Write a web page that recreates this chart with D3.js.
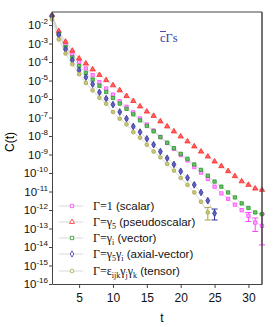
<!DOCTYPE html>
<html>
<head>
<meta charset="utf-8">
<script src="https://cdn.jsdelivr.net/npm/d3@7"></script>
<style>
  body { margin: 0; background: #fff; }
  svg { display: block; }
  .tick text { font-family: Arial, "Liberation Sans", sans-serif; }
</style>
</head>
<body>
<script>
// correlator values, t = 1..32
var tvals = d3.range(1, 33);

var scalar = [3.2e-2, 3.7e-3, 8.2e-4, 2.57e-4, 1.02e-4, 4.5e-5, 1.95e-5, 8.1e-6, 3.7e-6, 1.74e-6,
  7.6e-7, 3.8e-7, 1.9e-7, 8.9e-8, 4.2e-8, 2.0e-8, 8.9e-9, 4.2e-9, 2.0e-9, 9.3e-10,
  4.8e-10, 2.1e-10, 1.05e-10, 4.8e-11, 1.82e-11, 7.9e-12, 4.0e-12, 1.95e-12, 9.8e-13, 4.9e-13,
  2.1e-13, 1.4e-13];
var pseudoscalar = [3.5e-2, 4.7e-3, 1.26e-3, 4.1e-4, 1.55e-4, 8.3e-5, 4.0e-5, 2.0e-5, 1.05e-5, 5.5e-6,
  2.95e-6, 1.45e-6, 7.8e-7, 4.0e-7, 2.1e-7, 1.23e-7, 6.2e-8, 3.3e-8, 1.78e-8, 9.5e-9,
  5.1e-9, 2.75e-9, 1.45e-9, 7.8e-10, 4.2e-10, 2.35e-10, 1.26e-10, 6.8e-11, 3.55e-11, 2.3e-11,
  1.45e-11, 1.23e-11];
var vector = [2.9e-2, 3.3e-3, 6.5e-4, 1.78e-4, 6.0e-5, 2.6e-5, 1.13e-5, 5.2e-6, 2.4e-6, 1.14e-6,
  5.7e-7, 2.95e-7, 1.48e-7, 7.0e-8, 3.5e-8, 1.78e-8, 8.7e-9, 4.35e-9, 2.2e-9, 1.09e-9,
  5.9e-10, 2.9e-10, 1.48e-10, 7.2e-11, 3.45e-11, 1.83e-11, 8.9e-12, 4.8e-12, 2.28e-12, 1.29e-12,
  7.4e-13, 6.0e-13];
var axial = [3.1e-2, 2.9e-3, 4.8e-4, 1.26e-4, 3.6e-5, 1.51e-5, 6.3e-6, 2.3e-6, 1.05e-6, 5.0e-7,
  2.0e-7, 8.7e-8, 3.3e-8, 1.63e-8, 7.1e-9, 3.4e-9, 1.45e-9, 6.3e-10, 2.9e-10, 1.24e-10,
  5.5e-11, 2.3e-11, 8.9e-12, 3.2e-12, 6.6e-13];
var tensor = [2.04e-2, 1.67e-3, 2.9e-4, 7.6e-5, 2.2e-5, 7.4e-6, 2.95e-6, 1.17e-6, 5.6e-7, 2.0e-7,
  8.7e-8, 4.3e-8, 1.63e-8, 8.1e-9, 3.4e-9, 1.46e-9, 7.1e-10, 3.1e-10, 1.36e-10, 5.5e-11,
  2.3e-11, 8.9e-12, 2.8e-12, 7.4e-13];

// error bars [t, low, high] for the noisy tail points
var scalarErr = [[30, 2.4e-13, 7.4e-13], [31, 6.9e-14, 3.7e-13], [32, 1.3e-14, 6.0e-13]];
var axialErr = [[25, 2.9e-13, 1.13e-12]];
var tensorErr = [[24, 2.9e-13, 1.38e-12]];

var xTicks = [5, 10, 15, 20, 25, 30];
var yExps = d3.range(-16, -1);

var w = 273, h = 327;
var padL = 52, padR = 262, padT = 12, padB = 284;

var series = [
  {name: "scalar", data: scalar, err: scalarErr, color: "#ff44ff", fill: "#ffaaff", shape: d3.symbolSquare, size: 11},
  {name: "pseudoscalar", data: pseudoscalar, err: [], color: "#ff2a2a", fill: "#ff6060", shape: d3.symbolTriangle, size: 12},
  {name: "vector", data: vector, err: [], color: "#229922", fill: "#70c070", shape: d3.symbolSquare, size: 11},
  {name: "axial", data: axial, err: axialErr, color: "#30309a", fill: "#6060c0", shape: d3.symbolDiamond, size: 13},
  {name: "tensor", data: tensor, err: tensorErr, color: "#a5a545", fill: "#c8c880", shape: d3.symbolCircle, size: 11}
];

var svg = d3.select("body").append("svg")
  .attr("width", w)
  .attr("height", h);

var xScale = d3.scaleLinear().domain([1, 32]).range([padL, padR]);
var yScale = d3.scaleLog().domain([1e-16, 0.0507]).range([padB, padT]);

// connecting lines first
var line = d3.line()
  .x(function(d, i) { return xScale(tvals[i]); })
  .y(function(d) { return yScale(d); });

series.forEach(function(s) {
  svg.append("path")
    .attr("d", line(s.data))
    .attr("fill", "none")
    .attr("stroke", "#cfcfcf")
    .attr("stroke-width", 0.8);
});

// error bars
series.forEach(function(s) {
  s.err.forEach(function(e) {
    var x = xScale(e[0]);
    var g = svg.append("g").attr("stroke", s.color).attr("stroke-width", 1);
    g.append("line").attr("x1", x).attr("x2", x).attr("y1", yScale(e[1])).attr("y2", yScale(e[2]));
    g.append("line").attr("x1", x - 3).attr("x2", x + 3).attr("y1", yScale(e[1])).attr("y2", yScale(e[1]));
    g.append("line").attr("x1", x - 3).attr("x2", x + 3).attr("y1", yScale(e[2])).attr("y2", yScale(e[2]));
  });
});

// points
series.forEach(function(s) {
  svg.selectAll(null)
    .data(s.data)
    .enter()
    .append("path")
    .attr("d", d3.symbol().type(s.shape).size(s.size))
    .attr("transform", function(d, i) {
      return "translate(" + xScale(tvals[i]) + "," + yScale(d) + ")";
    })
    .attr("fill", s.fill)
    .attr("stroke", s.color)
    .attr("stroke-width", 0.8);
});

// frame: top and right borders
svg.append("line").attr("x1", padL).attr("x2", padR).attr("y1", padT).attr("y2", padT)
  .attr("stroke", "#444").attr("stroke-width", 1);
svg.append("line").attr("x1", padR).attr("x2", padR).attr("y1", padT).attr("y2", padB)
  .attr("stroke", "#444").attr("stroke-width", 1.5);

// x axis
var xAxis = d3.axisBottom(xScale).tickValues(xTicks).tickSize(4).tickPadding(5).tickSizeOuter(0);
var gx = svg.append("g")
  .attr("transform", "translate(0," + padB + ")")
  .call(xAxis);
gx.select(".domain").attr("stroke", "#444");
gx.selectAll(".tick line").attr("stroke", "#444");
gx.selectAll(".tick text").attr("font-size", "12px").attr("fill", "#111");

// y axis with 10^n labels
var yAxis = d3.axisLeft(yScale)
  .tickValues(yExps.map(function(e) { return Math.pow(10, e); }))
  .tickSize(3).tickPadding(3).tickSizeOuter(0)
  .tickFormat("");
var gy = svg.append("g")
  .attr("transform", "translate(" + padL + ",0)")
  .call(yAxis);
gy.select(".domain").attr("stroke", "#444");
gy.selectAll(".tick line").attr("stroke", "#444");

yExps.forEach(function(e) {
  var t = svg.append("text")
    .attr("x", padL - 4)
    .attr("y", yScale(Math.pow(10, e)) + 4)
    .attr("text-anchor", "end")
    .attr("font-family", "Arial, 'Liberation Sans', sans-serif")
    .attr("fill", "#111");
  t.append("tspan").attr("font-size", "11.5px").text("10");
  t.append("tspan").attr("font-size", "8px").attr("dy", -5).text(e);
});

// axis titles
svg.append("text")
  .attr("x", 162).attr("y", 322)
  .attr("text-anchor", "middle")
  .attr("font-family", "Arial, 'Liberation Sans', sans-serif")
  .attr("font-size", "12px")
  .text("t");

svg.append("text")
  .attr("transform", "translate(14,142) rotate(-90)")
  .attr("text-anchor", "middle")
  .attr("font-family", "Arial, 'Liberation Sans', sans-serif")
  .attr("font-size", "12px")
  .text("C(t)");

// label in the corner
svg.append("text")
  .attr("x", 160).attr("y", 42)
  .attr("font-family", "'Liberation Serif', 'DejaVu Serif', serif")
  .attr("font-size", "12.5px")
  .attr("fill", "#3a3aa8")
  .text("cΓs");
svg.append("line").attr("x1", 160).attr("x2", 166).attr("y1", 31.5).attr("y2", 31.5)
  .attr("stroke", "#3a3aa8").attr("stroke-width", 0.9);

// legend
var legendY = [206, 222, 238, 254, 271];
var legendParts = [
  [["Γ=1", null], [" (scalar)", "s"]],
  [["Γ=γ", null], ["5", "sub"], [" (pseudoscalar)", "s"]],
  [["Γ=γ", null], ["i", "sub"], [" (vector)", "s"]],
  [["Γ=γ", null], ["5", "sub"], ["γ", null], ["i", "sub"], [" (axial-vector)", "s"]],
  [["Γ=ε", null], ["ijk", "sub"], ["γ", null], ["j", "sub"], ["γ", null], ["k", "sub"], [" (tensor)", "s"]]
];

series.forEach(function(s, i) {
  var y = legendY[i];
  svg.append("line").attr("x1", 59).attr("x2", 83).attr("y1", y).attr("y2", y)
    .attr("stroke", "#cfcfcf").attr("stroke-width", 0.8);
  svg.append("path")
    .attr("d", d3.symbol().type(s.shape).size(11))
    .attr("transform", "translate(72," + y + ")")
    .attr("fill", "#fff")
    .attr("stroke", s.color)
    .attr("stroke-width", 0.8);
  var tx = svg.append("text")
    .attr("x", 93).attr("y", y + 4)
    .attr("font-size", "12px")
    .attr("fill", "#111");
  var shifted = false;
  legendParts[i].forEach(function(p) {
    var sp = tx.append("tspan").text(p[0]);
    if (p[1] === "sub") {
      sp.attr("font-family", "'Liberation Serif', serif").attr("font-size", "8px");
      if (!shifted) { sp.attr("dy", 3); shifted = true; }
    } else {
      if (shifted) { sp.attr("dy", -3); shifted = false; }
      if (p[1] === "s") {
        sp.attr("font-family", "Arial, 'Liberation Sans', sans-serif").attr("font-size", "11.5px");
      } else {
        sp.attr("font-family", "'Liberation Serif', serif").attr("font-size", "12px");
      }
    }
  });
});
</script>
</body>
</html>
